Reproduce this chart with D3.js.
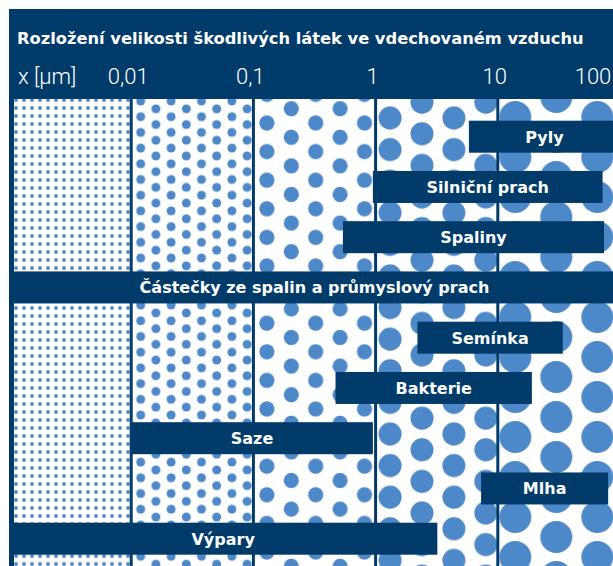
<!DOCTYPE html>
<html>
<head>
<meta charset="utf-8">
<script src="https://cdn.jsdelivr.net/npm/d3@7"></script>
<style>
body { margin: 0; background: #fff; }
</style>
</head>
<body>
<div id="chart"></div>
<script>
// chart data
var title = "Rozložení velikosti škodlivých látek ve vdechovaném vzduchu";
var unitLabel = "x [µm]";
var sources = ["Pyly", "Silniční prach", "Spaliny", "Částečky ze spalin a průmyslový prach",
               "Semínka", "Bakterie", "Saze", "Mlha", "Výpary"];
var minSize = [5.8, 0.95, 0.54, 0.001, 2.2, 0.47, 0.01, 7.3, 0.001];   // µm
var maxSize = [100, 72, 74, 100, 34, 19, 0.95, 80, 3.2];               // µm
var decades = [0.001, 0.01, 0.1, 1, 10, 100];
var tickValues = [0.01, 0.1, 1, 10, 100];
var tickLabels = ["0,01", "0,1", "1", "10", "100"];

// dot pattern look for each decade column
var dotR   = [1.9, 4.5, 7.6, 11.5, 16];
var dotDx  = [8, 15.2, 24.4, 31.9, 41];
var dotDy  = [8, 15.7, 28.6, 31.6, 40];
var dotOffX = [2, 8, 12, 13, 16];
var dotOffY = [1, 2, 24, 19, 18];

var navy = "#003b6a", dotColor = "#4d88c8";
var boldFont = "'DejaVu Sans', sans-serif";

var width = 613, height = 566;
var panelTop = 99;

var svg = d3.select("#chart")
  .append("svg")
  .attr("width", width)
  .attr("height", height)
  .style("display", "block");

// background
svg.append("rect")
  .attr("x", 9).attr("y", 9)
  .attr("width", width - 9).attr("height", height - 9)
  .attr("fill", navy);

// X scale (log, one decade per column)
var x = d3.scaleLog()
  .domain([0.001, 100])
  .range([9, 620]);

// Y: one row per source
var y = d3.scalePoint()
  .domain(sources)
  .range([136.7, 538.7]);
var barH = 32;

// patterns
var defs = svg.append("defs");
d3.range(5).forEach(function(i) {
  var left = x(decades[i]) + (i == 0 ? 5 : 1.5);
  var stagger = i > 0;
  var pw = stagger ? dotDx[i] * 2 : dotDx[i];
  var ph = dotDy[i];
  var p = defs.append("pattern")
    .attr("id", "dots" + i)
    .attr("patternUnits", "userSpaceOnUse")
    .attr("x", left + dotOffX[i])
    .attr("y", panelTop + dotOffY[i])
    .attr("width", pw)
    .attr("height", ph);
  p.append("rect").attr("width", pw).attr("height", ph).attr("fill", "#fff");
  var pts = [[0, 0], [pw, 0], [0, ph], [pw, ph]];
  if (stagger) pts.push([dotDx[i], ph / 2]);
  p.selectAll("circle")
    .data(pts)
    .enter()
    .append("circle")
    .attr("cx", function(d) { return d[0]; })
    .attr("cy", function(d) { return d[1]; })
    .attr("r", dotR[i])
    .attr("fill", dotColor);
});

// decade panels
svg.selectAll(".panel")
  .data(d3.range(5))
  .enter()
  .append("rect")
  .attr("class", "panel")
  .attr("x", function(i) { return x(decades[i]) + (i == 0 ? 5 : 1.5); })
  .attr("y", panelTop)
  .attr("width", function(i) {
    return x(decades[i + 1]) - x(decades[i]) - (i == 0 ? 6.5 : 3);
  })
  .attr("height", height - panelTop)
  .attr("fill", function(i) { return "url(#dots" + i + ")"; });

// title
svg.append("text")
  .attr("x", 17)
  .attr("y", 44)
  .attr("fill", "#fff")
  .style("font-family", boldFont)
  .style("font-weight", "bold")
  .style("font-size", "16.3px")
  .text(title);

// axis labels
svg.append("text")
  .attr("x", 18)
  .attr("y", 84)
  .attr("fill", "#fff")
  .style("font-family", "Roboto, sans-serif")
  .style("font-weight", 300)
  .style("font-size", "22px")
  .text(unitLabel);

svg.selectAll(".tick-label")
  .data(tickValues)
  .enter()
  .append("text")
  .attr("class", "tick-label")
  .attr("x", function(d) { return Math.min(x(d) - 3, width - 20); })
  .attr("y", 84)
  .attr("text-anchor", "middle")
  .attr("fill", "#fff")
  .style("font-family", "Roboto, sans-serif")
  .style("font-weight", 300)
  .style("font-size", "22px")
  .text(function(d, i) { return tickLabels[i]; });

// bars
var bars = svg.selectAll(".bar")
  .data(sources)
  .enter()
  .append("g")
  .attr("class", "bar");

bars.append("rect")
  .attr("x", function(d, i) { return x(minSize[i]); })
  .attr("y", function(d) { return y(d) - barH / 2; })
  .attr("width", function(d, i) { return x(maxSize[i]) - x(minSize[i]); })
  .attr("height", barH)
  .attr("fill", navy);

bars.append("text")
  .attr("x", function(d, i) { return (x(minSize[i]) + Math.min(x(maxSize[i]), 620)) / 2; })
  .attr("y", function(d) { return y(d) + 6; })
  .attr("text-anchor", "middle")
  .attr("fill", "#fff")
  .style("font-family", boldFont)
  .style("font-weight", "bold")
  .style("font-size", "16px")
  .text(function(d) { return d; });
</script>
</body>
</html>
